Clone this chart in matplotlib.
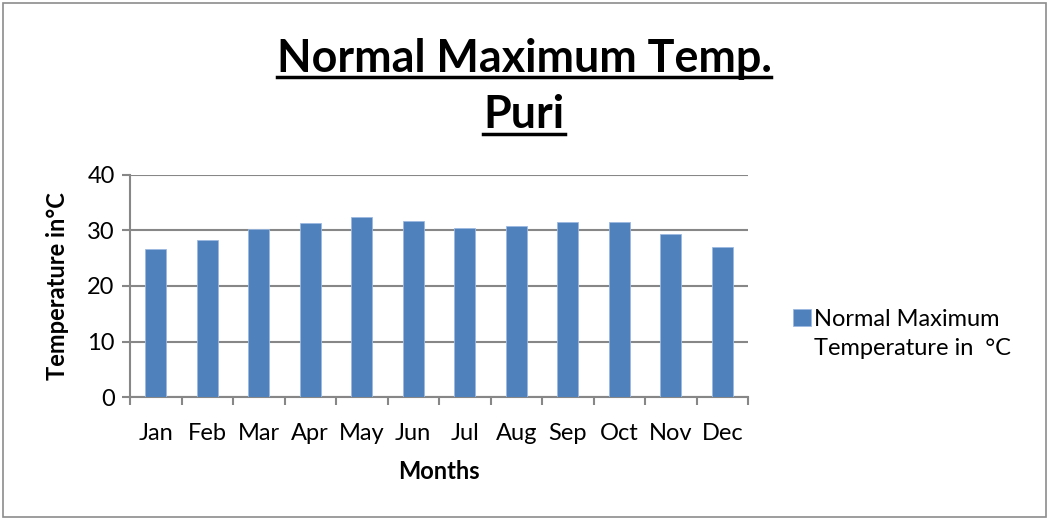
import matplotlib
matplotlib.use("Agg")
import matplotlib.pyplot as plt
from matplotlib.patches import Rectangle
from matplotlib.lines import Line2D
import numpy as np

plt.rcParams['font.family'] = ['Lato', 'DejaVu Sans']

# data
months = ['Jan', 'Feb', 'Mar', 'Apr', 'May', 'Jun',
          'Jul', 'Aug', 'Sep', 'Oct', 'Nov', 'Dec']
max_temp = [26.7, 28.2, 30.2, 31.3, 32.4, 31.7,
            30.5, 30.9, 31.5, 31.6, 29.3, 27.1]
series_name = 'Normal Maximum\nTemperature in  \u00b0C'

bar_color = '#4F81BD'
grid_color = '#878787'
fs = 17

fig = plt.figure(figsize=(10.5, 5.2), dpi=100)
fig.patches.append(Rectangle((0.003, 0.005), 0.993, 0.989, transform=fig.transFigure,
                             fill=False, edgecolor='#8c8c8c', linewidth=1.2))

ax = fig.add_axes([130 / 1050, 1 - 397 / 520, 618 / 1050, 222 / 520])
x = np.arange(len(months))
bars = ax.bar(x, max_temp, width=0.41, color=bar_color, edgecolor='#9DB9E0',
              linewidth=0.6, label=series_name, zorder=3)

ax.set_xlim(-0.5, len(months) - 0.5)
ax.set_ylim(0, 40)
ax.set_yticks([0, 10, 20, 30, 40])
ax.yaxis.grid(True, color=grid_color, linewidth=1.5, zorder=0)
ax.set_axisbelow(True)

# category ticks sit on the boundaries, labels in the middle
ax.set_xticks(x)
ax.set_xticklabels(months)
ax.set_xticks(np.arange(-0.5, len(months)), minor=True)
ax.tick_params(axis='x', which='major', length=0, pad=19, labelsize=fs)
ax.tick_params(axis='x', which='minor', length=6, width=1.5, color=grid_color, direction='out')
ax.tick_params(axis='y', length=6, width=1.5, color=grid_color, direction='out',
               pad=5, labelsize=fs)

for s in ['top', 'right']:
    ax.spines[s].set_visible(False)
for s in ['left', 'bottom']:
    ax.spines[s].set_color(grid_color)
    ax.spines[s].set_linewidth(1.5)

ax.set_xlabel('Months', fontsize=fs, fontweight='bold', labelpad=11)
ax.set_ylabel('Temperature in\u00b0C', fontsize=fs, fontweight='bold', labelpad=13)

leg = ax.legend(loc='upper left', bbox_to_anchor=(784 / 1050, 1 - 300 / 520),
                bbox_transform=fig.transFigure, frameon=False, fontsize=fs,
                handlelength=0.75, handleheight=0.75, handletextpad=0.1, borderaxespad=0)
leg.get_texts()[0].set_linespacing(1.45)
# put the square level with the first line of the label
hp = leg.legend_handles[0]
hp.set_y(hp.get_y() + 0.5 * fs * 1.45)

# two-line underlined title
t1 = fig.text(0.499, 1 - 72 / 520, 'Normal Maximum Temp.', ha='center', va='baseline',
              fontsize=32.3, fontweight='bold')
t2 = fig.text(0.499, 1 - 128 / 520, 'Puri', ha='center', va='baseline',
              fontsize=32.3, fontweight='bold')

fig.canvas.draw()
r = fig.canvas.get_renderer()
for t, uy in [(t1, 77), (t2, 134)]:
    bb = t.get_window_extent(r).transformed(fig.transFigure.inverted())
    yy = 1 - uy / 520
    fig.lines.append(Line2D([bb.x0, bb.x1], [yy, yy], transform=fig.transFigure,
                            color='black', linewidth=2.5))

fig.savefig('out.png', dpi=100)
